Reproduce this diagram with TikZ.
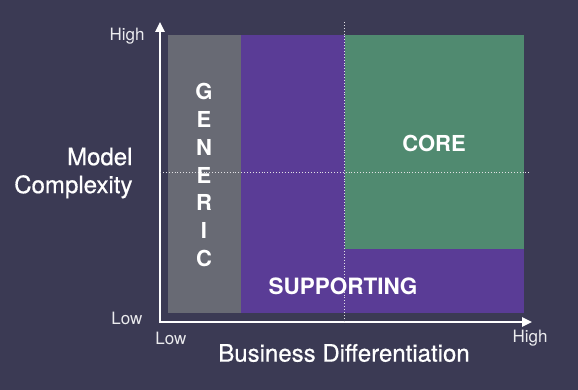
\documentclass[tikz,border=0pt]{standalone}
\usepackage{fontspec}
\setmainfont{TeX Gyre Heros}
\usepackage{tikz}
\usetikzlibrary{arrows.meta,positioning}
\definecolor{Night}{HTML}{3B3A54}
\definecolor{Slate}{HTML}{686A74}
\definecolor{Grape}{HTML}{5A3C96}
\definecolor{Moss}{HTML}{508A70}
\tikzset{
  axisline/.style={draw=white, line width=2.4pt,
    {Triangle[length=10pt,width=9pt]}-{Triangle[length=10pt,width=9pt]}},
  guide/.style={draw=white!85!Night, line width=0.9pt, dotted},
  ticklabel/.style={text=white!90!Night, font=\fontsize{17}{20}\selectfont},
  axistitle/.style={text=white, font=\fontsize{24}{28}\selectfont\addfontfeature{FakeBold=0.6}},
  zonelabel/.style={text=white, font=\fontsize{22}{24}\selectfont\bfseries},
}

\begin{document}
\begin{tikzpicture}[x=1pt, y=-1pt]
  \fill[Night] (0,0) rectangle (578,390);
  \useasboundingbox (0,0) rectangle (578,390);

  % domain zones
  \fill[Slate] (168,35) rectangle (241,313);
  \fill[Grape] (241,35) rectangle (524,313);
  \fill[Moss] (345,35) rectangle (524,249);

  % axes
  \coordinate (origin) at (160,322);
  \coordinate (ytop) at (160,22);
  \coordinate (xend) at (532,322);
  \draw[axisline] (ytop) -- (origin) -- (xend);

  % quadrant guides
  \coordinate (vtop) at (344,22);
  \coordinate (vbot) at (344,322);
  \coordinate (hleft) at (160,172);
  \coordinate (hright) at (530,172);
  \draw[guide] (vtop) -- (vbot);
  \draw[guide] (hleft) -- (hright);

  % tick labels
  \node[ticklabel] (yhigh) at (127,36) {High};
  \node[ticklabel] (ylow) at (127,318) {Low};
  \node[ticklabel] (xlow) at (171,338) {Low};
  \node[ticklabel] (xhigh) at (530,338) {High};

  % axis titles
  \node[axistitle, align=right, anchor=east] (ytitle) at (136,173) {Model\\Complexity};
  \node[axistitle] (xtitle) at (344,353) {Business Differentiation};

  % zone labels
  \node[zonelabel, align=center, font=\fontsize{22}{27.9}\selectfont\bfseries]
    (generic) at (204,175) {G\\E\\N\\E\\R\\I\\C};
  \node[zonelabel] (core) at (434,143) {CORE};
  \node[zonelabel, font=\fontsize{22.5}{24}\selectfont\bfseries] (supporting) at (343,286) {SUPPORTING};
\end{tikzpicture}
\end{document}
